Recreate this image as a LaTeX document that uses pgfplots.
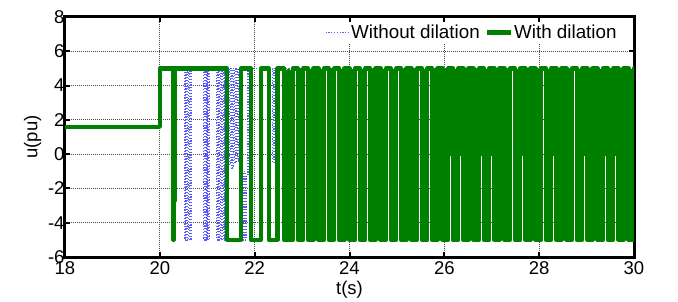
\documentclass[border=0pt]{standalone}
\usepackage{pgfplots}
\pgfplotsset{compat=1.18}
\usepackage{fontspec}
\setmainfont{Liberation Sans}
\definecolor{mgreen}{rgb}{0,0.5,0}
\definecolor{mblue}{rgb}{0.35,0.35,1}
\begin{document}
\begin{tikzpicture}
\useasboundingbox (-65pt,-44pt) rectangle (613pt,257pt);
\begin{axis}[
 scale only axis, width=569pt, height=240pt,
 xmin=18, xmax=30, ymin=-6, ymax=8,
 xtick={18,20,...,30}, ytick={-6,-4,...,8},
 /pgf/number format/assume math mode=true,
 tick align=inside, major tick length=5pt,
 every tick/.style={black, line width=2pt},
 axis line style={line width=3pt},
 grid=major,
 major grid style={black!70, line width=0.8pt, dash pattern=on 0.8pt off 1.2pt},
 tick label style={font=\fontsize{18.5}{22}\selectfont},
 label style={font=\fontsize{18.5}{22}\selectfont},
 yticklabel style={xshift=3pt},
 xticklabel style={yshift=-1pt},
 xlabel={t(s)}, ylabel={u(pu)},
 xlabel style={at={(axis description cs:0.5,-0.137)}, anchor=center},
 ylabel style={at={(axis description cs:-0.057,0.5)}, anchor=center},
 legend columns=2,
 legend style={at={(0.975,0.98)}, anchor=north east, draw=none, fill=white, inner sep=2pt,
   font=\fontsize{18.8}{22}\selectfont, nodes={inner sep=1pt}, /tikz/column 2/.style={column sep=4pt}},
 legend image code/.code={\draw[#1] (0pt,0pt) -- (24pt,0pt);},
]
\addplot[mblue, line width=1.4pt, dash pattern=on 1.2pt off 1.6pt] coordinates {
(18,1.6) (20,1.6) (20,5)
(20.53,5) (20.53,-5) (20.555,-5) (20.555,5) (20.58,5) (20.58,-5) (20.605,-5) (20.605,5) (20.63,5) (20.63,-5) (20.655,-5) (20.655,5)
(20.92,5) (20.92,-5) (20.945,-5) (20.945,5) (20.97,5) (20.97,-5) (20.995,-5) (20.995,5) (21.02,5) (21.02,-5) (21.045,-5) (21.045,5)
(21.20,5) (21.20,-5) (21.225,-5) (21.225,5) (21.25,5) (21.25,-5) (21.275,-5) (21.275,5) (21.30,5) (21.30,-5) (21.325,-5) (21.325,5) (21.35,5) (21.35,-5) (21.37,-5) (21.37,5)
(21.46,5) (21.46,-0.6) (21.49,-0.6) (21.49,5) (21.52,5) (21.52,-0.8) (21.55,-0.8) (21.55,5) (21.58,5) (21.58,-0.5) (21.61,-0.5) (21.61,5) (21.64,5) (21.64,-0.4) (21.67,-0.4) (21.67,5)
(21.745,5) (21.745,-5) (21.77,-5) (21.77,-1) (21.80,-1) (21.80,-5) (21.83,-5) (21.83,-1.2) (21.86,-1.2) (21.86,5)
(22.38,5) (22.38,-0.5) (22.41,-0.5) (22.41,5)
(30,5)
};
\addlegendentry{Without dilation}
\addplot[mgreen, line width=4.4pt, line join=round] coordinates {
(18,1.6) (20,1.6) (20,5) (20.29,5) (20.29,-5) (20.29,5) (20.32,5) (20.32,-2.7) (20.32,5)
(21.42,5) (21.42,-5) (21.71,-5) (21.71,5) (21.92,5) (21.92,-5) (22.13,-5) (22.13,5)
(22.30,5) (22.30,-5) (22.48,-5) (22.48,5) (22.62,5) (22.62,-5) (22.71,-5) (22.71,4.85) (22.71,-5) (22.804,-5)
(22.804,5) (22.912,5) (22.912,-5) (22.967,-5) (22.967,4.85) (22.967,-5) (23.022,-5)
(23.022,5) (23.130,5) (23.130,-5) (23.185,-5) (23.185,4.85) (23.185,-5) (23.240,-5)
(23.240,5) (23.348,5) (23.348,-5) (23.403,-5) (23.403,4.85) (23.403,-5) (23.458,-5)
(23.458,5) (23.566,5) (23.566,-5) (23.621,-5) (23.621,4.85) (23.621,-5) (23.676,-5)
(23.676,5) (23.784,5) (23.784,-5) (23.839,-5) (23.839,4.85) (23.839,-5) (23.894,-5)
(23.894,5) (24.002,5) (24.002,-5) (24.057,-5) (24.057,4.85) (24.057,-5) (24.112,-5)
(24.112,5) (24.220,5) (24.220,-5) (24.275,-5) (24.275,4.85) (24.275,-5) (24.330,-5)
(24.330,5) (24.438,5) (24.438,-5) (24.493,-5) (24.493,4.85) (24.493,-5) (24.548,-5)
(24.548,5) (24.602,5) (24.602,0) (24.602,5) (24.656,5) (24.656,-5) (24.711,-5) (24.711,4.85) (24.711,-5) (24.766,-5)
(24.766,5) (24.874,5) (24.874,-5) (24.929,-5) (24.929,4.85) (24.929,-5) (24.984,-5)
(24.984,5) (25.092,5) (25.092,-5) (25.147,-5) (25.147,4.85) (25.147,-5) (25.202,-5)
(25.202,5) (25.310,5) (25.310,-5) (25.365,-5) (25.365,4.85) (25.365,-5) (25.420,-5)
(25.420,5) (25.528,5) (25.528,-5) (25.583,-5) (25.583,4.85) (25.583,-5) (25.638,-5)
(25.638,5) (25.746,5) (25.746,-5) (25.801,-5) (25.801,4.85) (25.801,-5) (25.856,-5)
(25.856,5) (25.910,5) (25.910,0) (25.910,5) (25.964,5) (25.964,-5) (26.019,-5) (26.019,4.85) (26.019,-5) (26.074,-5)
(26.074,5) (26.128,5) (26.128,0) (26.128,5) (26.182,5) (26.182,-5) (26.237,-5) (26.237,4.85) (26.237,-5) (26.292,-5)
(26.292,5) (26.346,5) (26.346,0) (26.346,5) (26.400,5) (26.400,-5) (26.455,-5) (26.455,4.85) (26.455,-5) (26.510,-5)
(26.510,5) (26.618,5) (26.618,-5) (26.673,-5) (26.673,4.85) (26.673,-5) (26.728,-5)
(26.728,5) (26.782,5) (26.782,0) (26.782,5) (26.836,5) (26.836,-5) (26.891,-5) (26.891,4.85) (26.891,-5) (26.946,-5)
(26.946,5) (27.000,5) (27.000,0) (27.000,5) (27.054,5) (27.054,-5) (27.109,-5) (27.109,4.85) (27.109,-5) (27.164,-5)
(27.164,5) (27.218,5) (27.218,0) (27.218,5) (27.272,5) (27.272,-5) (27.327,-5) (27.327,4.85) (27.327,-5) (27.382,-5)
(27.382,5) (27.490,5) (27.490,-5) (27.545,-5) (27.545,4.85) (27.545,-5) (27.600,-5)
(27.600,5) (27.654,5) (27.654,0) (27.654,5) (27.708,5) (27.708,-5) (27.763,-5) (27.763,4.85) (27.763,-5) (27.818,-5)
(27.818,5) (27.872,5) (27.872,0) (27.872,5) (27.926,5) (27.926,-5) (27.981,-5) (27.981,4.85) (27.981,-5) (28.036,-5)
(28.036,5) (28.144,5) (28.144,-5) (28.199,-5) (28.199,4.85) (28.199,-5) (28.254,-5)
(28.254,5) (28.308,5) (28.308,0) (28.308,5) (28.362,5) (28.362,-5) (28.417,-5) (28.417,4.85) (28.417,-5) (28.472,-5)
(28.472,5) (28.526,5) (28.526,0) (28.526,5) (28.580,5) (28.580,-5) (28.635,-5) (28.635,4.85) (28.635,-5) (28.690,-5)
(28.690,5) (28.798,5) (28.798,-5) (28.853,-5) (28.853,4.85) (28.853,-5) (28.908,-5)
(28.908,5) (28.962,5) (28.962,0) (28.962,5) (29.016,5) (29.016,-5) (29.071,-5) (29.071,4.85) (29.071,-5) (29.126,-5)
(29.126,5) (29.234,5) (29.234,-5) (29.289,-5) (29.289,4.85) (29.289,-5) (29.344,-5)
(29.344,5) (29.398,5) (29.398,0) (29.398,5) (29.452,5) (29.452,-5) (29.507,-5) (29.507,4.85) (29.507,-5) (29.562,-5)
(29.562,5) (29.616,5) (29.616,0) (29.616,5) (29.670,5) (29.670,-5) (29.725,-5) (29.725,4.85) (29.725,-5) (29.780,-5)
(29.780,5) (29.888,5) (29.888,-5) (29.943,-5) (29.943,4.85) (29.943,-5) (29.998,-5)
(29.998,5) (30.1,5)
};
\addlegendentry{With dilation}
\end{axis}
\end{tikzpicture}
\end{document}
